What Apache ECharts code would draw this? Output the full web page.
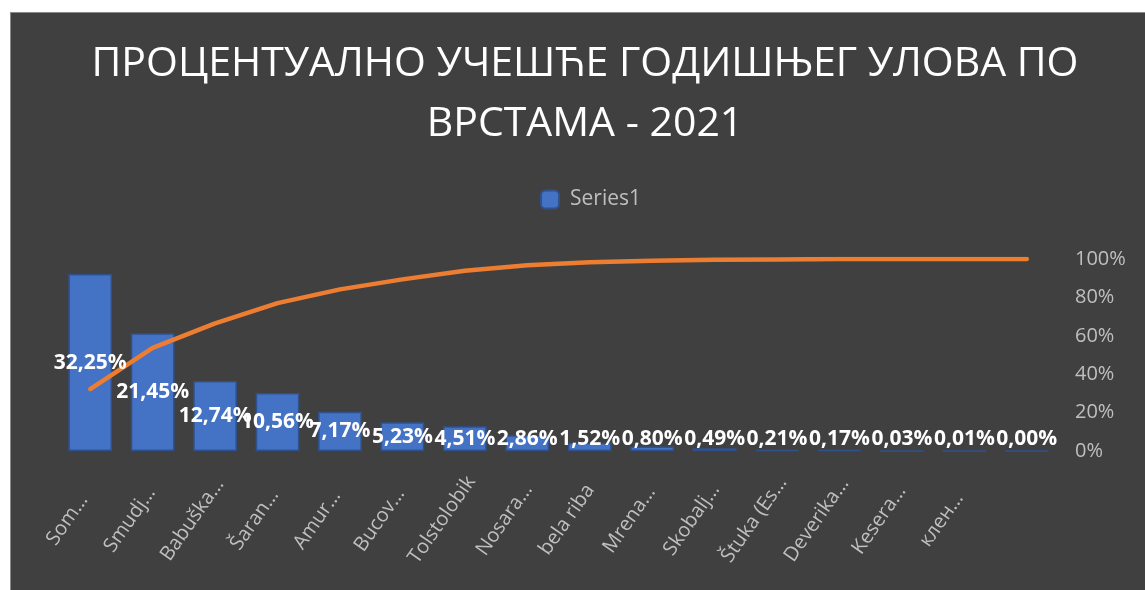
<!DOCTYPE html>
<html>
<head>
<meta charset="utf-8">
<script src="https://cdn.jsdelivr.net/npm/echarts@6/dist/echarts.min.js"></script>
<style>
  html, body { margin: 0; padding: 0; background: #ffffff; }
  #wrap { position: absolute; left: 10px; top: 12px; width: 1134px; height: 577px;
          border-left: 1px solid #8a8a8a; border-top: 1px solid #8a8a8a; }
  #chart { width: 1134px; height: 577px; }
</style>
</head>
<body>
<div id="wrap"><div id="chart"></div></div>
<script>
// vrste (skraceni nazivi kao na grafiku)
var categories = ['Som…', 'Smudj…', 'Babuška…', 'Šaran…', 'Amur…', 'Bucov…', 'Tolstolobik', 'Nosara…',
                  'bela riba', 'Mrena…', 'Skobalj…', 'Štuka (Es…', 'Deverika…', 'Kesera…', 'клен…', ''];
// ucesce u ulovu, %
var shareValues = [32.25, 21.45, 12.74, 10.56, 7.17, 5.23, 4.51, 2.86, 1.52, 0.80, 0.49, 0.21, 0.17, 0.03, 0.01, 0.00];
// kumulativno, %
var cumulativeValues = [32.25, 53.70, 66.44, 77.00, 84.17, 89.40, 93.91, 96.77, 98.29, 99.09, 99.58, 99.79, 99.96, 99.99, 100.00, 100.00];
var rightTicks = [0, 20, 40, 60, 80, 100];

var FONT = '"Open Sans", "Noto Sans", sans-serif';
var plotBottom = 577 - 139;

function pct(v) {
  return v.toFixed(2).replace('.', ',') + '%';
}

var chart = echarts.init(document.getElementById('chart'));
chart.setOption({
  backgroundColor: '#404040',
  animation: false,
  title: {
    text: 'ПРОЦЕНТУАЛНО УЧЕШЋЕ ГОДИШЊЕГ УЛОВА ПО\nВРСТАМА - 2021',
    left: 574,
    textAlign: 'center',
    top: 21,
    padding: 0,
    textStyle: { color: '#ffffff', fontFamily: FONT, fontWeight: 'normal', fontSize: 41, lineHeight: 60 }
  },
  legend: {
    data: ['Series1'],
    left: 529,
    top: 176,
    padding: 0,
    itemWidth: 18,
    itemHeight: 18,
    textStyle: { color: '#bfbfbf', fontFamily: FONT, fontSize: 21, padding: [0, 0, 0, 6] }
  },
  grid: { left: 48, right: 87, top: 246, bottom: 139, outerBoundsMode: 'none', containLabel: false },
  xAxis: {
    type: 'category',
    data: categories,
    axisLine: { show: false },
    axisTick: { show: false },
    axisLabel: {
      color: '#bfbfbf', fontFamily: FONT, fontSize: 20, rotate: 55, margin: 72, interval: 0,
      align: 'center', verticalAlign: 'middle', lineHeight: 41,
      formatter: function (v) { return v + '    \n '; }
    }
  },
  yAxis: [
    { type: 'value', min: 0, max: 35, show: false },
    {
      type: 'value', min: 0, max: 100, interval: 20, position: 'right',
      axisLine: { show: false }, axisTick: { show: false }, splitLine: { show: false },
      axisLabel: { color: '#bfbfbf', fontFamily: FONT, fontSize: 20, margin: 17,
                   formatter: function (v) { return rightTicks.indexOf(v) >= 0 ? v + '%' : ''; } }
    }
  ],
  series: [
    {
      name: 'Series1',
      type: 'bar',
      yAxisIndex: 0,
      data: shareValues,
      barWidth: '70%',
      itemStyle: { color: '#4472c4', borderColor: '#2f528f', borderWidth: 1.5 },
      z: 2
    },
    {
      name: 'Kumulativno',
      type: 'line',
      yAxisIndex: 1,
      data: cumulativeValues,
      showSymbol: false,
      lineStyle: { color: '#ed7d31', width: 4.5, cap: 'round', join: 'round' },
      itemStyle: { color: '#ed7d31' },
      z: 3
    },
    {
      name: 'labels',
      type: 'bar',
      yAxisIndex: 0,
      data: shareValues,
      barWidth: '70%',
      barGap: '-100%',
      silent: true,
      itemStyle: { color: 'rgba(0,0,0,0)' },
      z: 5,
      label: {
        show: true,
        position: 'inside',
        color: '#ffffff',
        fontFamily: FONT,
        fontWeight: 'bold',
        fontSize: 21,
        formatter: function (p) { return pct(p.value); }
      },
      labelLayout: function (p) {
        var r = p.labelRect;
        var cy = r.y + r.height / 2;
        var limit = plotBottom - 12;
        return { dy: Math.min(0, limit - cy) };
      }
    }
  ]
});
</script>
</body>
</html>
